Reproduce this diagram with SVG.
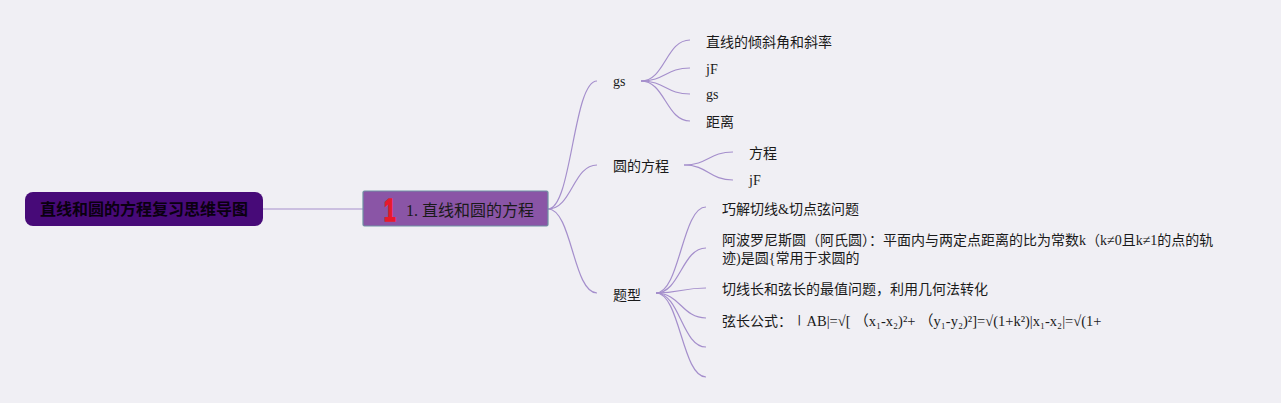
<svg xmlns="http://www.w3.org/2000/svg" width="1281" height="403" viewBox="0 0 1281 403">
<style>
.t{font-family:"Liberation Serif","Noto Sans CJK SC",serif;font-size:14px;fill:#1a1a1a}
.c{fill:none;stroke:#a58fcc;stroke-width:1.2}
</style>
<rect width="1281" height="403" fill="#f0eff4"/>
<g id="connectors">
<path class="c" d="M263,209 H363"/>
<path class="c" d="M548,209 C572,209 573,81 597,81"/>
<path class="c" d="M548,209 C572,209 573,165 597,165"/>
<path class="c" d="M548,209 C572,209 573,293 597,293"/>
<path class="c" d="M641,81 C665,81 666,40 690,40"/>
<path class="c" d="M641,81 C665,81 666,68 690,68"/>
<path class="c" d="M641,81 C665,81 666,94 690,94"/>
<path class="c" d="M641,81 C665,81 666,121 690,121"/>
<path class="c" d="M684,165 C708,165 709,152 733,152"/>
<path class="c" d="M684,165 C708,165 709,180 733,180"/>
<path class="c" d="M656,293 C680,293 682,207 706,207"/>
<path class="c" d="M656,293 C680,293 682,248 706,248"/>
<path class="c" d="M656,293 C680,293 682,288 706,288"/>
<path class="c" d="M656,293 C680,293 682,318 706,318"/>
<path class="c" d="M656,293 C680,293 682,347 706,347"/>
<path class="c" d="M656,293 C680,293 682,377 706,377"/>
</g>
<g id="root">
<rect x="25" y="192" width="238" height="34" rx="8" fill="#470a78"/>
<text x="144" y="215" text-anchor="middle" style="font-family:'Noto Sans CJK SC',sans-serif;font-size:16px;font-weight:bold;fill:#0a0010">直线和圆的方程复习思维导图</text>
</g>
<g id="main">
<rect x="363" y="191" width="185" height="35" rx="1.5" fill="#8a55a6" stroke="#6f92a3" stroke-width="1.2"/>
<text transform="translate(384,221) scale(0.75,1.15)" style="font-family:'Liberation Sans',sans-serif;font-size:28px;font-weight:bold;fill:#e8192c;stroke:#e8192c;stroke-width:1.5">1</text>
<text x="406" y="216" class="t" style="font-size:16px">1. 直线和圆的方程</text>
</g>
<g id="gs"><text x="613" y="86" class="t">gs</text></g>
<g id="yuan"><text x="613" y="171" class="t">圆的方程</text></g>
<g id="tixing"><text x="613" y="300" class="t">题型</text></g>
<g id="n1"><text x="706" y="47" class="t">直线的倾斜角和斜率</text></g>
<g id="n2"><text x="706" y="74" class="t">jF</text></g>
<g id="n3"><text x="706" y="99" class="t">gs</text></g>
<g id="n4"><text x="706" y="127" class="t">距离</text></g>
<g id="n5"><text x="749" y="158" class="t">方程</text></g>
<g id="n6"><text x="749" y="185" class="t">jF</text></g>
<g id="n7"><text x="722" y="214" class="t">巧解切线&amp;切点弦问题</text></g>
<g id="n8"><text x="722" y="245" class="t">阿波罗尼斯圆（阿氏圆）：平面内与两定点距离的比为常数k（k≠0且k≠1的点的轨</text><text x="722" y="263" class="t">迹)是圆{常用于求圆的</text></g>
<g id="n9"><text x="722" y="294" class="t">切线长和弦长的最值问题，利用几何法转化</text></g>
<g id="n10"><text x="722" y="326" class="t">弦长公式：<tspan style="font-size:14.5px">∣AB|=√[ （x₁-x₂)²+ （y₁-y₂)²]=√(1+k²)|x₁-x₂|=√(1+</tspan></text></g>
<g id="n11"></g>
<g id="n12"></g>
</svg>
